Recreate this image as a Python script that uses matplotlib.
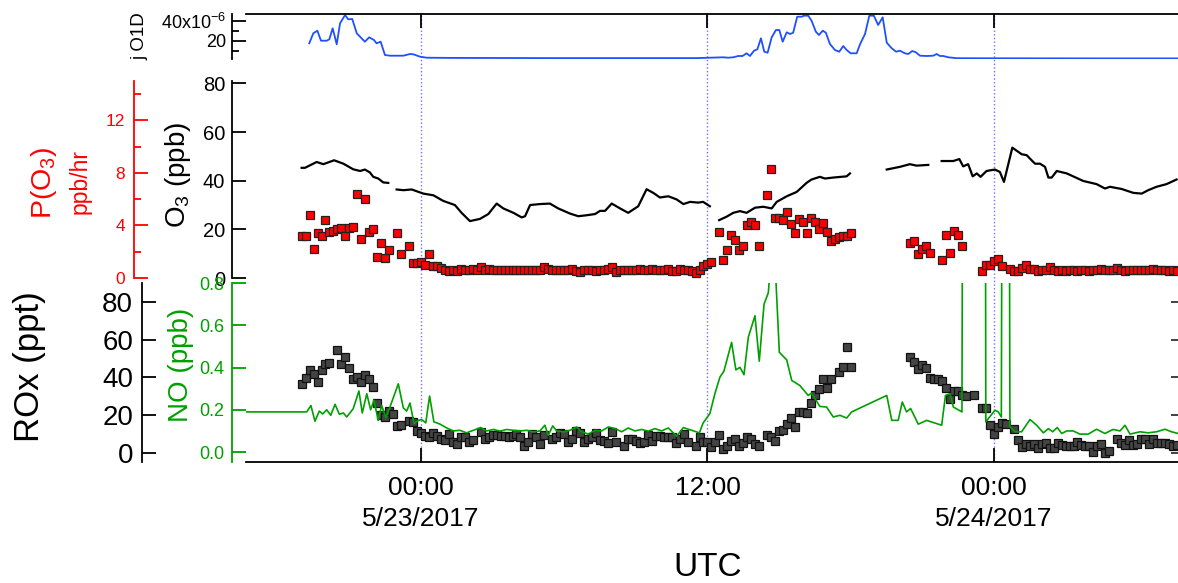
import numpy as np
import matplotlib
matplotlib.use('Agg')
import matplotlib.pyplot as plt

plt.rcParams['font.family'] = ['Liberation Sans', 'DejaVu Sans']
plt.rcParams['axes.unicode_minus'] = False

nan = np.nan

# all times are hours since 5/23/2017 00:00 UTC
x_range = (-7.33, 31.71)
tick_hours = [0, 12, 24]
tick_labels = ['00:00\n5/23/2017', '12:00', '00:00\n5/24/2017']

# 10-minute averages (squares), starting at 5/22 19:00
sq_start = -5.0
sq_step = 1 / 6

po3 = [3.2, 3.2, 4.8, 2.2, 3.4, 3.2, 4.4, 3.5, 3.6, 3.7,
       3.8, 3.2, 3.8, 3.9, 6.4, 3.0, 6.0, 3.5, 3.7, 1.6,
       2.7, 1.5, 2.1, nan, 3.4, 1.8, nan, 2.4, 1.15, 1.15,
       1.25, 1.0, 1.8, 0.9, 0.9, 0.74, 0.61, 0.56, 0.61, 0.53,
       0.66, 0.61, 0.61, 0.66, 0.6, 0.8, 0.62, 0.7, 0.6, 0.62,
       0.58, 0.6, 0.6, 0.6, 0.62, 0.6, 0.6, 0.62, 0.6, 0.58,
       0.64, 0.86, 0.72, 0.62, 0.6, 0.6, 0.6, 0.6, 0.7, 0.55,
       0.45, 0.6, 0.62, 0.58, 0.55, 0.62, 0.64, 0.7, 0.82, 0.45,
       0.62, 0.62, 0.6, 0.62, 0.62, 0.65, 0.58, 0.6, 0.65, 0.6,
       0.58, 0.62, 0.65, 0.55, 0.5, 0.66, 0.6, 0.62, 0.55, 0.4,
       0.6, 0.9, 1.05, 1.2, nan, 3.5, 1.4, 2.1, 3.3, 2.9,
       2.1, 2.4, 4.0, 4.3, 4.0, 2.4, nan, 6.3, 8.3, 4.6,
       4.6, 4.4, 5.0, 4.1, 3.4, 4.5, 4.3, 3.4, 4.6, 4.3,
       3.7, 4.2, 3.5, 2.8, 3.0, 3.1, 3.2, 3.2, 3.4, nan,
       nan, nan, nan, nan, nan, nan, nan, nan, nan, nan,
       nan, nan, nan, 2.7, 2.8, 1.8, 2.2, 2.4, 1.9, nan,
       nan, 1.4, 3.3, 1.9, 3.6, 3.3, 2.4, nan, nan, nan,
       nan, 0.5, 1.0, 1.0, 1.3, 1.45, 0.9, nan, 0.7, 0.55,
       0.55, 0.75, 1.0, 0.7, 0.7, 0.5, 0.58, 0.62, 0.8, 0.58,
       0.55, 0.6, 0.55, 0.62, 0.6, 0.55, 0.6, 0.62, 0.55, 0.58,
       0.6, 0.65, 0.6, 0.6, 0.62, 0.75, 0.58, 0.55, 0.62, 0.6,
       0.58, 0.6, 0.62, 0.6, 0.68, 0.58, 0.62, 0.6, 0.55, 0.58,
       0.55]

rox = [36.5, 39.7, 44, 42, 37.6, 44, 47, 47.6, nan, 54.5,
       47, 51, 45, 39, 40, 37.6, 41, 39, 35, 26.5,
       20, 19, 22, 20.6, 14.3, 14.8, nan, 17, 16.4, 11.6,
       10.6, 9, 8.5, 10.6, 9, 7.4, 6.9, 10, 5.8, 4.8,
       8.5, 8.5, 5.8, 6.9, nan, 11, 7.4, 8.5, 9.5, 9.5,
       9, 9, 8.5, 9, 10, 8.5, 3.7, 5.8, 10, 8.5,
       4.8, 9.5, nan, 7.4, 8.5, 10.6, 10, 5.8, 7.4, 11.6,
       10.6, 5.8, 7.4, 8.5, 10.6, 6.9, 6.4, 5.3, 11, 5.8,
       nan, 3.7, 7.2, 7.2, 6.5, 5.1, 5.6, 9.5, 6.5, 9,
       9, 8.6, 8.6, 8.3, 5.1, 7.2, 10, 6, nan, 3.7,
       8.6, 5.8, 5.8, 3.2, 5.8, 9.5, 2, 3.7, 6.2, 7.6,
       3.9, 5.4, 8.3, 7.2, 4.8, 3.7, nan, 9.5, 8.6, 6.3,
       11.8, 12.2, 15.3, 18.4, 13.6, 21.9, 21.9, 21, 26.6, 30.7,
       34, 39, 34.2, 39, nan, 43, 45.3, 56.2, 45.7, nan,
       nan, nan, nan, nan, nan, nan, nan, nan, nan, nan,
       nan, nan, nan, 51, 48, 44.3, 46.7, 44.8, 39.5, 39,
       39, 38.2, 34.2, 28.6, 33, 32.8, 30.7, 30.3, nan, 30.7,
       nan, 24, 24, 14.8, 10, 13.6, 16, 15.2, nan, 12.7,
       6.9, 3.3, 4.6, 3.7, 4.8, 2.5, 4.8, 5.1, 2.5, 2.5,
       5.4, 4.2, 3.7, 3.7, 3.9, 6, 4.2, 3.7, 3.9, 0.4,
       3.9, 4.8, 0.2, 1, nan, 7.2, 5.1, 4.2, 6.9, 4.2,
       4.8, 7.2, 7.2, 4.8, 7.2, 5.4, 5.1, 5.1, 4.8, 3.9,
       4.2]

# O3 (ppb)
o3_hr = [-5.00, -4.86, -4.37, -4.09, -3.64, -3.25, -2.84, -2.55, -2.35, -2.14,
         -2.00, -1.79, -1.58, -1.37, -1.2,
         -1.02, -0.74, -0.39, 0.10, 0.52, 0.93, 1.42, 1.70, 2.05, 2.47,
         2.82, 3.17, 3.45, 3.87, 4.22, 4.36, 4.57, 4.98, 5.40, 5.75,
         6.24, 6.59, 6.94, 7.29, 7.50, 7.71, 7.99, 8.34, 8.68, 9.10,
         9.45, 9.73, 10.01, 10.36, 10.71, 10.99, 11.27, 11.61, 11.82, 12.10, 12.3,
         12.49, 12.80, 13.08, 13.36, 13.64, 13.99, 14.34, 14.69, 14.90, 15.32,
         15.74, 16.15, 16.36, 16.71, 16.92, 17.27, 17.83, 17.97, 18.5,
         19.51, 20.06, 20.48, 20.76, 21.25, 21.5,
         21.81, 22.30, 22.55, 22.71, 22.92, 23.11, 23.28, 23.44, 23.69, 24.04,
         24.25, 24.42, 24.77, 25.16, 25.37, 25.72, 25.93, 26.14, 26.28, 26.42,
         26.63, 27.05, 27.74, 28.30, 28.65, 28.86, 29.35, 29.84, 30.19, 30.46,
         30.81, 31.23, 31.65]
o3_ppb = [45.3, 45.3, 47.7, 46.8, 48.4, 47.0, 44.7, 44.0, 44.6, 43.4,
          41.6, 40.9, 39.3, 39.1, nan,
          36.4, 36.1, 36.4, 34.7, 34.0, 31.7, 30.0, 26.8, 23.4, 24.3,
          26.3, 30.6, 28.6, 26.8, 24.9, 25.4, 30.0, 30.4, 30.6, 28.6,
          26.5, 25.4, 25.8, 26.3, 27.6, 27.6, 30.6, 28.6, 26.8, 29.5,
          36.5, 35.0, 33.1, 33.6, 32.3, 30.4, 31.3, 31.0, 31.3, 29.5, nan,
          23.8, 25.2, 26.8, 27.5, 26.8, 28.9, 29.3, 28.6, 31.3, 33.6,
          35.4, 39.1, 40.5, 41.6, 40.9, 41.3, 41.8, 43.0, nan,
          44.6, 45.7, 46.8, 46.2, 46.5, nan,
          48.1, 48.1, 48.9, 45.9, 46.8, 41.8, 43.0, 41.6, 44.0, 44.6,
          43.6, 39.5, 53.6, 50.9, 50.5, 47.0, 47.0, 45.7, 41.3, 41.3,
          44.0, 43.0, 39.9, 38.6, 36.8, 37.5, 36.6, 35.0, 34.7, 36.1,
          37.5, 38.6, 40.5]

# NO (ppb); values above the axis are clipped
no_hr = [-7.33, -4.79, -4.61, -4.44, -4.26, -4.12, -3.95, -3.78, -3.60, -3.42,
         -3.25, -3.11, -2.84, -2.60, -2.46, -2.27, -2.11, -1.97, -1.79, -1.65,
         -1.47, -1.30, -0.95, -0.74, -0.60, -0.46, -0.29, -0.11, 0.03, 0.20,
         0.36, 0.54, 0.80, 1.08, 1.35, 1.63, 1.91, 2.19, 2.50, 2.75,
         3.03, 3.31, 3.59, 3.87, 4.15, 4.43, 4.70, 4.98, 5.19, 5.33,
         5.52, 5.68, 5.96, 6.24, 6.52, 6.73, 7.01, 7.29, 7.57, 7.85,
         8.13, 8.41, 8.68, 8.96, 9.24, 9.52, 9.80, 10.08, 10.36, 10.71,
         10.99, 11.34, 11.66, 11.82, 12.10, 12.31, 12.52, 12.69, 13.01, 13.19,
         13.36, 13.53, 13.71, 13.99, 14.17, 14.37, 14.55, 14.68, 14.81, 15.01,
         15.32, 15.53, 15.87, 16.22, 16.36, 16.50, 16.71, 16.99, 17.27, 17.55,
         17.83, 18.04, 19.51, 19.72, 19.99, 20.16, 20.34, 20.51, 20.83, 21.18,
         21.81, 21.97, 22.16, 22.30, 22.66, 22.69, 23.64, 23.66, 24.04, 24.18,
         24.31, 24.34, 24.64, 24.67, 24.88, 25.16, 25.51, 25.79, 26.07, 26.28,
         26.46, 26.65, 26.84, 27.05, 27.32, 27.60, 27.95, 28.30, 28.65, 28.99,
         29.28, 29.49, 29.70, 30.12, 30.46, 30.81, 31.16, 31.44, 31.71]
no_ppb = [0.19, 0.19, 0.22, 0.146, 0.194, 0.18, 0.2, 0.174, 0.226, 0.179,
          0.185, 0.166, 0.205, 0.289, 0.185, 0.276, 0.2, 0.245, 0.15, 0.221,
          0.163, 0.213, 0.323, 0.209, 0.194, 0.232, 0.135, 0.15, 0.154, 0.138,
          0.265, 0.143, 0.132, 0.114, 0.1, 0.103, 0.091, 0.103, 0.116, 0.1,
          0.107, 0.099, 0.107, 0.103, 0.1, 0.103, 0.096, 0.1, 0.127, 0.08,
          0.124, 0.1, 0.096, 0.103, 0.119, 0.096, 0.085, 0.103, 0.1, 0.119,
          0.111, 0.096, 0.114, 0.1, 0.107, 0.099, 0.111, 0.1, 0.114, 0.075,
          0.116, 0.103, 0.091, 0.138, 0.182, 0.276, 0.354, 0.383, 0.519, 0.389,
          0.401, 0.366, 0.543, 0.645, 0.43, 0.7, 0.754, 0.95, 0.95, 0.472,
          0.436, 0.339, 0.315, 0.268, 0.279, 0.253, 0.216, 0.213, 0.166, 0.174,
          0.161, 0.19, 0.268, 0.15, 0.15, 0.237, 0.19, 0.206, 0.132, 0.15,
          0.127, 0.268, 0.276, 0.213, 0.19, 1.5, 1.5, 0.143, 0.198, 0.19,
          0.166, 1.5, 1.5, 0.12, 0.096, 0.096, 0.154, 0.127, 0.091, 0.111,
          0.096, 0.116, 0.088, 0.1, 0.1, 0.085, 0.085, 0.108, 0.088, 0.107,
          0.1, 0.127, 0.085, 0.096, 0.091, 0.096, 0.108, 0.096, 0.088]

# j(O1D), units of 1e-6 s-1
j_hr = [-4.68, -4.51, -4.34, -4.19, -3.95, -3.84, -3.70, -3.53, -3.39, -3.18,
        -3.05, -2.88, -2.69, -2.53, -2.35, -2.17, -1.97, -1.86, -1.69, -1.51,
        -1.30, -0.74, -0.46, -0.32, -0.04, 0.24, 1.21, 5.40, 9.59, 11.55,
        12.66, 12.87, 13.08, 13.29, 13.47, 13.64, 13.78, 13.95, 14.09, 14.24,
        14.38, 14.52, 14.69, 14.87, 15.01, 15.15, 15.32, 15.46, 15.59, 15.76,
        15.95, 16.04, 16.22, 16.36, 16.54, 16.67, 16.83, 16.96, 17.13, 17.34,
        17.52, 17.69, 17.83, 18.00, 18.25, 18.39, 18.60, 18.78, 18.97, 19.15,
        19.34, 19.51, 19.72, 19.90, 20.06, 20.27, 20.41, 20.58, 20.73, 20.90,
        21.18, 21.46, 21.60, 21.74, 21.88, 22.09, 22.44, 24.25, 28.44, 31.71]
j_o1d = [17.4, 27.4, 30, 20, 20, 21.4, 32.4, 16.4, 37.4, 45.7,
         41.4, 41.7, 27.4, 23.4, 19, 23.4, 20.7, 17.4, 19, 5.7,
         5, 5, 6.7, 6.4, 4, 3, 2.8, 2.6, 2.6, 2.6,
         3.4, 3.0, 3.4, 4.7, 4.7, 7.4, 4.7, 10, 11.4, 22.4,
         9, 8, 23.4, 30.7, 30.7, 19, 28.4, 26.7, 28, 44,
         44, 45, 45, 40, 29, 25.7, 30, 28, 16.7, 10.7,
         9, 14.7, 10.7, 7.4, 7.4, 16.4, 26.7, 45, 45, 35.7,
         43.4, 18, 12.4, 9, 10, 7.4, 6.7, 9.7, 8.4, 5,
         4.7, 5, 6.7, 4.7, 4.7, 3.4, 2.5, 2.4, 2.3, 2.3]

W, H = 1178, 583
PT = 0.72  # points per pixel at dpi 100

RED = '#ff0000'
GREEN = '#00a000'
BLUE = '#1f4fff'


def rect(x0, y0, x1, y1):
    return [x0 / W, 1 - y1 / H, (x1 - x0) / W, (y1 - y0) / H]


def bare(ax):
    ax.set_facecolor('none')
    for sp in ax.spines.values():
        sp.set_visible(False)
    ax.set_xlim(*x_range)
    ax.tick_params(bottom=False, top=False, left=False, right=False,
                   labelbottom=False, labelleft=False, labelright=False)


def left_axis(ax, offset_px, color, size, pad_px):
    sp = ax.spines['left']
    sp.set_visible(True)
    sp.set_position(('outward', offset_px * PT))
    sp.set_color(color)
    sp.set_linewidth(1.3)
    ax.yaxis.set_ticks_position('left')
    ax.yaxis.set_label_position('left')
    ax.tick_params(axis='y', which='both', left=True, labelleft=True, direction='in',
                   color=color, labelcolor=color, labelsize=size, pad=pad_px * PT, width=1.3)
    ax.tick_params(axis='y', which='major', length=14 * PT)
    ax.tick_params(axis='y', which='minor', length=7 * PT)


fig = plt.figure(figsize=(W / 100, H / 100), dpi=100)
fig.patch.set_facecolor('white')

# dotted day/noon markers running through all panels
ax_v = fig.add_axes(rect(246, 14, 1178, 462))
bare(ax_v)
ax_v.axis('off')
for h in tick_hours:
    ax_v.axvline(h, color='#6f6fff', ls=':', lw=1.0)

# --- top panel: jO1D ---
ax_j = fig.add_axes(rect(246, 14, 1178, 58.7))
bare(ax_j)
ax_j.plot(j_hr, j_o1d, color=BLUE, lw=1.3)
ax_j.set_ylim(2, 46.7)
left_axis(ax_j, 14, 'black', 13, 6)
ax_j.set_yticks([20, 40])
ax_j.set_yticklabels(['20', r'40x10$^{\mathregular{-6}}$'])
ax_j.set_yticks([10, 30], minor=True)
ax_j.spines['top'].set_visible(True)
ax_j.spines['top'].set_linewidth(1.3)
ax_j.set_xticks(tick_hours)
ax_j.tick_params(axis='x', top=True, labeltop=False, direction='in',
                 length=14 * PT, width=1.3)

# --- middle panel: O3 and P(O3) ---
ax_o3 = fig.add_axes(rect(246, 81, 1178, 278))
bare(ax_o3)
ax_o3.plot(o3_hr, o3_ppb, color='black', lw=1.6)
ax_o3.set_ylim(0, 81)
left_axis(ax_o3, 14, 'black', 14.5, 7)
ax_o3.set_yticks([0, 20, 40, 60, 80])

ax_p = ax_o3.twinx()
bare(ax_p)
t_sq = sq_start + np.arange(len(po3)) * sq_step
ax_p.plot(t_sq, po3, ls='none', marker='s', ms=5.4, mfc=RED, mec='#222222', mew=0.9)
ax_p.set_ylim(0, 15)
left_axis(ax_p, 112, RED, 12.5, 9)
ax_p.set_yticks([0, 4, 8, 12])
ax_p.set_yticks([2, 6, 10, 14], minor=True)

# --- bottom panel: ROx and NO ---
ax_r = fig.add_axes(rect(246, 283, 1178, 462))
bare(ax_r)
t_r = sq_start + np.arange(len(rox)) * sq_step
ax_r.plot(t_r, rox, ls='none', marker='s', ms=5.4, mfc='#444444', mec='#111111', mew=0.9)
ax_r.set_ylim(-4.76, 89.9)
left_axis(ax_r, 104, 'black', 20, 9)
ax_r.set_yticks([0, 20, 40, 60, 80])
ax_r.spines['bottom'].set_visible(True)
ax_r.spines['bottom'].set_linewidth(1.3)
ax_r.set_xticks(tick_hours)
ax_r.set_xticklabels(tick_labels, fontsize=19, linespacing=1.4)
ax_r.tick_params(axis='x', bottom=True, labelbottom=True, direction='in',
                 length=14 * PT, width=1.3, pad=10)

ax_rr = ax_r.twinx()
bare(ax_rr)
ax_rr.set_ylim(ax_r.get_ylim())
ax_rr.set_yticks([0, 20, 40, 60, 80])
ax_rr.tick_params(axis='y', right=True, labelright=False, direction='in',
                  length=7 * PT, width=1.3, color='#333333')

ax_no = ax_r.twinx()
bare(ax_no)
ax_no.plot(no_hr, no_ppb, color=GREEN, lw=1.2)
ax_no.set_ylim(-0.047, 0.795)
left_axis(ax_no, 14, GREEN, 13, 8)
ax_no.set_yticks([0.0, 0.2, 0.4, 0.6, 0.8])
ax_no.set_yticklabels(['0.0', '0.2', '0.4', '0.6', '0.8'])


def label(x, y, s, size, color='black', rot=90):
    fig.text(x / W, 1 - y / H, s, fontsize=size, color=color, rotation=rot,
             ha='center', va='center')


label(140, 36, 'j O1D', 13.5)
label(44, 183, r'P(O$_{\mathregular{3}}$)', 20.5, RED)
label(80, 181, 'ppb/hr', 16.5, RED)
label(178, 175, r'O$_{\mathregular{3}}$ (ppb)', 20)
label(29, 367, 'ROx (ppt)', 25)
label(181, 365, 'NO (ppb)', 20, GREEN)
label(708, 567, 'UTC', 24, rot=0)

fig.savefig('out.png', dpi=100)
plt.close(fig)
